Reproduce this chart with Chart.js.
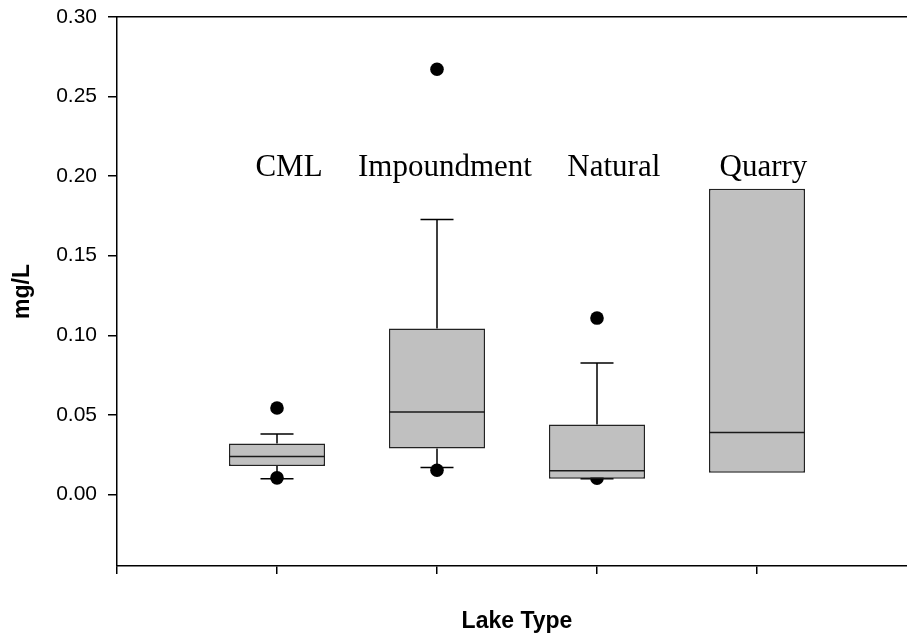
<!DOCTYPE html>
<html>
<head>
<meta charset="utf-8">
<script src="https://cdn.jsdelivr.net/npm/chart.js@4/dist/chart.umd.min.js"></script>
<style>
html,body{margin:0;padding:0;background:#fff;overflow:hidden;}
canvas{display:block;}
</style>
</head>
<body>
<canvas id="c" width="917" height="639"></canvas>
<script>
// ---- data ----
const categories = ['CML', 'Impoundment', 'Natural', 'Quarry'];
const q1          = [0.0178, 0.0289, 0.0098, 0.0136];
const median      = [0.0238, 0.0518, 0.0148, 0.0389];
const q3          = [0.0320, 0.1043, 0.0439, 0.1920];
const whiskerLow  = [0.0098, 0.0169, 0.0098, null];
const whiskerHigh = [0.0380, 0.1728, 0.0826, null];
const outliers    = [[0.0543, 0.0104], [0.2672, 0.0152], [0.1108, 0.0102], []];
const yTickValues = [0.00, 0.05, 0.10, 0.15, 0.20, 0.25, 0.30];
const yTickLabels = ['0.00', '0.05', '0.10', '0.15', '0.20', '0.25', '0.30'];
const xTickValues = [0, 1, 2, 3, 4, 5];

// ---- build library data ----
const boxData = categories.map((c, i) => ({ x: i + 1, y: [q1[i], q3[i]] }));
const medianData = categories.map((c, i) => ({ x: i + 1, y: median[i] }));
const capData = [];
const stemData = [];
categories.forEach((c, i) => {
  if (whiskerHigh[i] !== null) {
    capData.push({ x: i + 1, y: whiskerHigh[i] });
    stemData.push({ x: i + 1, y: q3[i] }, { x: i + 1, y: whiskerHigh[i] }, { x: i + 1, y: null });
  }
  if (whiskerLow[i] !== null) {
    capData.push({ x: i + 1, y: whiskerLow[i] });
    stemData.push({ x: i + 1, y: q1[i] }, { x: i + 1, y: whiskerLow[i] }, { x: i + 1, y: null });
  }
});
const outlierData = [];
outliers.forEach((arr, i) => arr.forEach(v => outlierData.push({ x: i + 1, y: v })));

const categoryLabelPlugin = {
  id: 'categoryLabels',
  afterDatasetsDraw(chart, args, opts) {
    const { ctx, scales } = chart;
    ctx.save();
    ctx.font = opts.font;
    ctx.fillStyle = '#000';
    ctx.textAlign = 'center';
    ctx.textBaseline = 'alphabetic';
    categories.forEach((c, i) => {
      ctx.fillText(c, scales.x.getPixelForValue(opts.xPos[i]), scales.y.getPixelForValue(opts.yPos));
    });
    ctx.restore();
  }
};

const sansFont = "'Liberation Sans', Arial, sans-serif";
const zeroPad = s => { s.paddingTop = 0; s.paddingBottom = 0; s.paddingLeft = 0; s.paddingRight = 0; };

new Chart(document.getElementById('c'), {
  type: 'bar',
  data: {
    datasets: [
      {
        type: 'scatter', label: 'median', data: medianData, order: 0,
        pointStyle: 'line', pointRadius: 48, pointHoverRadius: 48,
        pointBorderColor: '#1a1a1a', pointBorderWidth: 1.5, pointBackgroundColor: '#1a1a1a'
      },
      {
        type: 'bar', label: 'box', data: boxData, order: 1,
        backgroundColor: '#c0c0c0', borderColor: '#222', borderWidth: 1.5,
        borderSkipped: false, grouped: false,
        categoryPercentage: 0.6, barPercentage: 1.0
      },
      {
        type: 'scatter', label: 'outliers', data: outlierData, order: 2,
        pointStyle: 'circle', pointRadius: 6.8, pointHoverRadius: 6.8,
        pointBackgroundColor: '#000', pointBorderWidth: 0
      },
      {
        type: 'scatter', label: 'caps', data: capData, order: 3,
        pointStyle: 'line', pointRadius: 16.5, pointHoverRadius: 16.5,
        pointBorderColor: '#000', pointBorderWidth: 1.5
      },
      {
        type: 'line', label: 'stems', data: stemData, order: 4,
        borderColor: '#000', borderWidth: 1.5, pointRadius: 0, spanGaps: false, fill: false
      }
    ]
  },
  options: {
    responsive: false,
    animation: false,
    events: [],
    layout: { autoPadding: false, padding: { left: 0, right: 0, top: 0, bottom: 0 } },
    plugins: {
      legend: { display: false },
      tooltip: { enabled: false },
      categoryLabels: {
        font: "31px 'Liberation Serif', 'Times New Roman', serif",
        xPos: [1.075, 2.05, 3.105, 4.04],
        yPos: 0.20
      }
    },
    scales: {
      x: {
        type: 'linear', position: 'bottom', min: 0, max: 5, offset: false,
        afterBuildTicks: s => { s.ticks = xTickValues.map(v => ({ value: v })); },
        afterFit: s => { s.height = 73; zeroPad(s); },
        ticks: { display: false },
        grid: { display: true, offset: false, drawOnChartArea: false, drawTicks: true, tickLength: 8, color: '#000', lineWidth: 1.5 },
        border: { display: true, color: '#000', width: 1.5 },
        title: { display: true, text: 'Lake Type', color: '#000', font: { family: sansFont, size: 23, weight: 'bold' }, padding: { top: 0, bottom: 4 } }
      },
      x2: {
        type: 'linear', position: 'top', min: 0, max: 5,
        afterFit: s => { s.height = 17; zeroPad(s); },
        ticks: { display: false },
        grid: { display: false },
        border: { display: true, color: '#000', width: 1.5 }
      },
      y: {
        type: 'linear', position: 'left', min: -0.045, max: 0.30,
        afterBuildTicks: s => { s.ticks = yTickValues.map(v => ({ value: v })); },
        afterFit: s => { s.width = 117; zeroPad(s); },
        ticks: {
          color: '#000', padding: 11, font: { family: sansFont, size: 21 },
          callback: (v, i) => yTickLabels[i]
        },
        grid: { display: true, drawOnChartArea: false, drawTicks: true, tickLength: 9, color: '#000', lineWidth: 1.5 },
        border: { display: true, color: '#000', width: 1.5 },
        title: { display: true, text: 'mg/L', color: '#000', font: { family: sansFont, size: 23, weight: 'bold' }, padding: { top: 9, bottom: 0 } }
      }
    }
  },
  plugins: [categoryLabelPlugin]
});
</script>
</body>
</html>
